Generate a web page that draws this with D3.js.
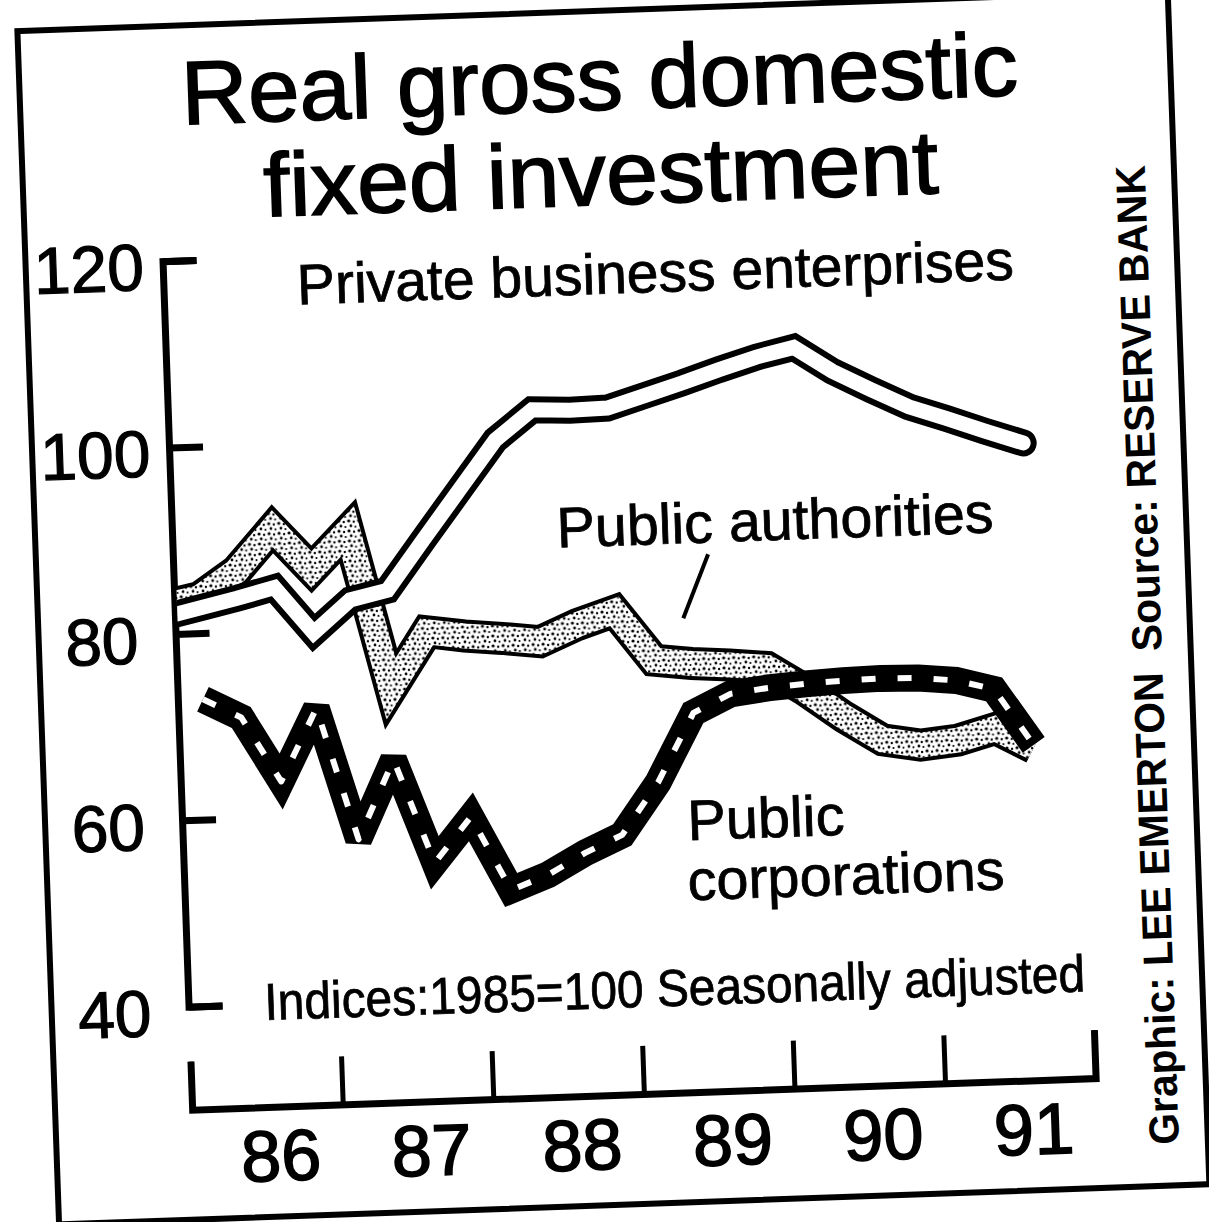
<!DOCTYPE html>
<html>
<head>
<meta charset="utf-8">
<script src="https://cdn.jsdelivr.net/npm/d3@7"></script>
<style>
  html, body { margin: 0; padding: 0; background: #fff; }
  svg { display: block; }
  text { font-family: "Liberation Sans", Arial, Helvetica, sans-serif; fill: #000; }
</style>
</head>
<body>
<div id="chart"></div>
<script>
// quarterly index values, 1985=100
const quarters = ['1985-Q4',
  '1986-Q1', '1986-Q2', '1986-Q3', '1986-Q4',
  '1987-Q1', '1987-Q2', '1987-Q3', '1987-Q4',
  '1988-Q1', '1988-Q2', '1988-Q3', '1988-Q4',
  '1989-Q1', '1989-Q2', '1989-Q3', '1989-Q4',
  '1990-Q1', '1990-Q2', '1990-Q3', '1990-Q4',
  '1991-Q1', '1991-Q2', '1991-Q3'];
const privateBusiness = [81.8, 82.7, 83.6, 84.6, 79.6, 83.0, 83.9, 89.2, 94.4, 99.6, 102.7, 102.5,
  102.6, 103.8, 105.0, 106.3, 107.5, 108.4, 105.7, 103.6, 101.6, 100.2, 98.7, 97.3];
const publicAuthorities = [83.0, 83.8, 86.5, 90.9, 86.4, 90.4, 73.3, 79.3, 78.7, 78.3, 77.8, 79.5,
  80.8, 75.4, 74.9, 74.6, 74.2, 71.6, 68.6, 66.0, 65.3, 65.7, 66.8, 64.6];
const publicCorporations = [null, 72.9, 70.8, 63.8, 71.5, 57.3, 65.7, 54.5, 59.3, 51.3, 52.8, 55.0,
  56.8, 62.3, 69.6, 71.5, 72.0, 72.3, 72.5, 72.6, 72.5, 72.1, 71.0, 64.9];
const yTicks = [40, 60, 80, 100, 120];
const yearTicks = [1986, 1987, 1988, 1989, 1990, 1991, 1992];
const yearLabels = ['86', '87', '88', '89', '90', '91'];

(function () {
  'use strict';
  const width = 1209;
  const height = 1222;

  // quarter plotted near its end (end of 2nd month)
  function qTime(label) {
    const year = +label.slice(0, 4);
    const q = +label.slice(6);
    return year + (q * 3 - 1) / 12;
  }

  const x = d3.scaleLinear().domain([1986, 1992]).range([175, 1079]);
  const y = d3.scaleLinear().domain([40, 120]).range([992, 246]);

  const svg = d3.select('#chart')
    .append('svg')
    .attr('width', width)
    .attr('height', height);

  svg.append('rect').attr('width', width).attr('height', height).attr('fill', '#fff');

  const defs = svg.append('defs');
  const pat = defs.append('pattern')
    .attr('id', 'stipple')
    .attr('patternUnits', 'userSpaceOnUse')
    .attr('width', 10)
    .attr('height', 10);
  pat.append('rect').attr('width', 10).attr('height', 10).attr('fill', '#fff');
  [[2, 2, 1.6], [7, 3, 1.2], [4, 7, 1.4], [8.5, 8, 1.1]].forEach(function (c) {
    pat.append('circle').attr('cx', c[0]).attr('cy', c[1]).attr('r', c[2]).attr('fill', '#000');
  });
  defs.append('clipPath').attr('id', 'plotclip')
    .append('rect').attr('x', 177.5).attr('y', 0).attr('width', 1000).attr('height', 1222);

  // the printed page is scanned slightly tilted
  const g = svg.append('g').attr('transform', 'rotate(-2,604,611)');

  // outer frame
  g.append('rect')
    .attr('x', 38).attr('y', 11)
    .attr('width', 1151).attr('height', 1194)
    .attr('fill', 'none').attr('stroke', '#000').attr('stroke-width', 6);

  // titles
  function label(txt, px, py, size, len, anchor, sw) {
    return g.append('text')
      .attr('x', px).attr('y', py)
      .attr('font-size', size)
      .attr('text-anchor', anchor || 'start')
      .attr('textLength', len)
      .attr('lengthAdjust', 'spacingAndGlyphs')
      .attr('stroke', '#000')
      .attr('stroke-width', sw || 1)
      .text(txt);
  }
  label('Real gross domestic', 618, 110, 90, 837, 'middle', 1.6);
  label('fixed investment', 616, 205, 90, 675, 'middle', 1.6);
  label('Private business enterprises', 667, 294, 57, 717, 'middle', 0.8);
  label('Public authorities', 778, 546, 57, 437, 'middle', 0.8);
  label('Public', 680, 843, 57, 157, 'start', 0.8);
  label('corporations', 678, 903, 57, 317, 'start', 0.8);
  label('Indices:1985=100 Seasonally adjusted', 251, 1008, 52, 821, 'start', 0.8);

  g.append('line')
    .attr('x1', 710).attr('y1', 558).attr('x2', 683).attr('y2', 621)
    .attr('stroke', '#000').attr('stroke-width', 4);

  // credit, running up the right edge
  const credit = g.append('text')
    .attr('transform', 'translate(1160,674) rotate(-90)')
    .attr('text-anchor', 'middle')
    .attr('font-size', 42)
    .attr('font-weight', 'bold')
    .attr('textLength', 980)
    .attr('lengthAdjust', 'spacingAndGlyphs');
  credit.append('tspan').text('Graphic: LEE EMERTON');
  credit.append('tspan').attr('dx', 22).text('Source: RESERVE BANK');

  // y axis
  const gy = g.append('g')
    .attr('transform', 'translate(' + x(1986) + ',0)')
    .call(d3.axisLeft(y).tickValues(yTicks).tickSize(-34).tickFormat(d3.format('d')));
  gy.attr('font-family', null).attr('font-size', 66);
  gy.select('.domain').attr('stroke-width', 7);
  gy.selectAll('.tick line').attr('stroke-width', 7);
  gy.selectAll('.tick text')
    .attr('x', -74)
    .attr('dy', '0.42em')
    .attr('text-anchor', 'middle')
    .attr('stroke', '#000')
    .attr('stroke-width', 1.2);

  // x axis, set apart below the plot
  const gx = g.append('g')
    .attr('transform', 'translate(0,1095)')
    .call(d3.axisBottom(x).tickValues(yearTicks).tickSize(-48).tickSizeOuter(-48).tickFormat(''));
  gx.select('.domain').attr('stroke-width', 7);
  gx.selectAll('.tick line').attr('stroke-width', 5);

  g.append('g').selectAll('text')
    .data(yearLabels)
    .enter()
    .append('text')
    .attr('x', (d, i) => x(yearTicks[i] + 0.5) + 12)
    .attr('y', 1169)
    .attr('text-anchor', 'middle')
    .attr('font-size', 72)
    .attr('stroke', '#000')
    .attr('stroke-width', 1.6)
    .text(d => d);

  // lines
  const line = d3.line()
    .defined(d => d.v != null)
    .x(d => x(d.t))
    .y(d => y(d.v));
  function series(values) {
    return values.map((v, i) => ({ t: qTime(quarters[i]), v: v }));
  }

  const plot = g.append('g').attr('clip-path', 'url(#plotclip)');

  // public authorities: stippled band with black edge
  const pa = series(publicAuthorities);
  plot.append('path').attr('d', line(pa))
    .attr('fill', 'none').attr('stroke', '#000').attr('stroke-width', 33)
    .attr('stroke-linejoin', 'miter').attr('stroke-miterlimit', 2.5);
  plot.append('path').attr('d', line(pa))
    .attr('fill', 'none').attr('stroke', 'url(#stipple)').attr('stroke-width', 25)
    .attr('stroke-linejoin', 'miter').attr('stroke-miterlimit', 2.5);

  // private business: hollow double line
  const pb = series(privateBusiness);
  plot.append('path').attr('d', line(pb))
    .attr('fill', 'none').attr('stroke', '#000').attr('stroke-width', 27)
    .attr('stroke-linecap', 'round')
    .attr('stroke-linejoin', 'miter').attr('stroke-miterlimit', 2.5);
  plot.append('path').attr('d', line(pb))
    .attr('fill', 'none').attr('stroke', '#fff').attr('stroke-width', 15)
    .attr('stroke-linecap', 'round')
    .attr('stroke-linejoin', 'miter').attr('stroke-miterlimit', 2.5);

  // public corporations: black band with white dashes
  const pc = series(publicCorporations);
  plot.append('path').attr('d', line(pc))
    .attr('fill', 'none').attr('stroke', '#000').attr('stroke-width', 27)
    .attr('stroke-linejoin', 'miter').attr('stroke-miterlimit', 2.5);
  plot.append('path').attr('d', line(pc))
    .attr('fill', 'none').attr('stroke', '#fff').attr('stroke-width', 6)
    .attr('stroke-dasharray', '14 22')
    .attr('stroke-linejoin', 'round');
}());
</script>
</body>
</html>
